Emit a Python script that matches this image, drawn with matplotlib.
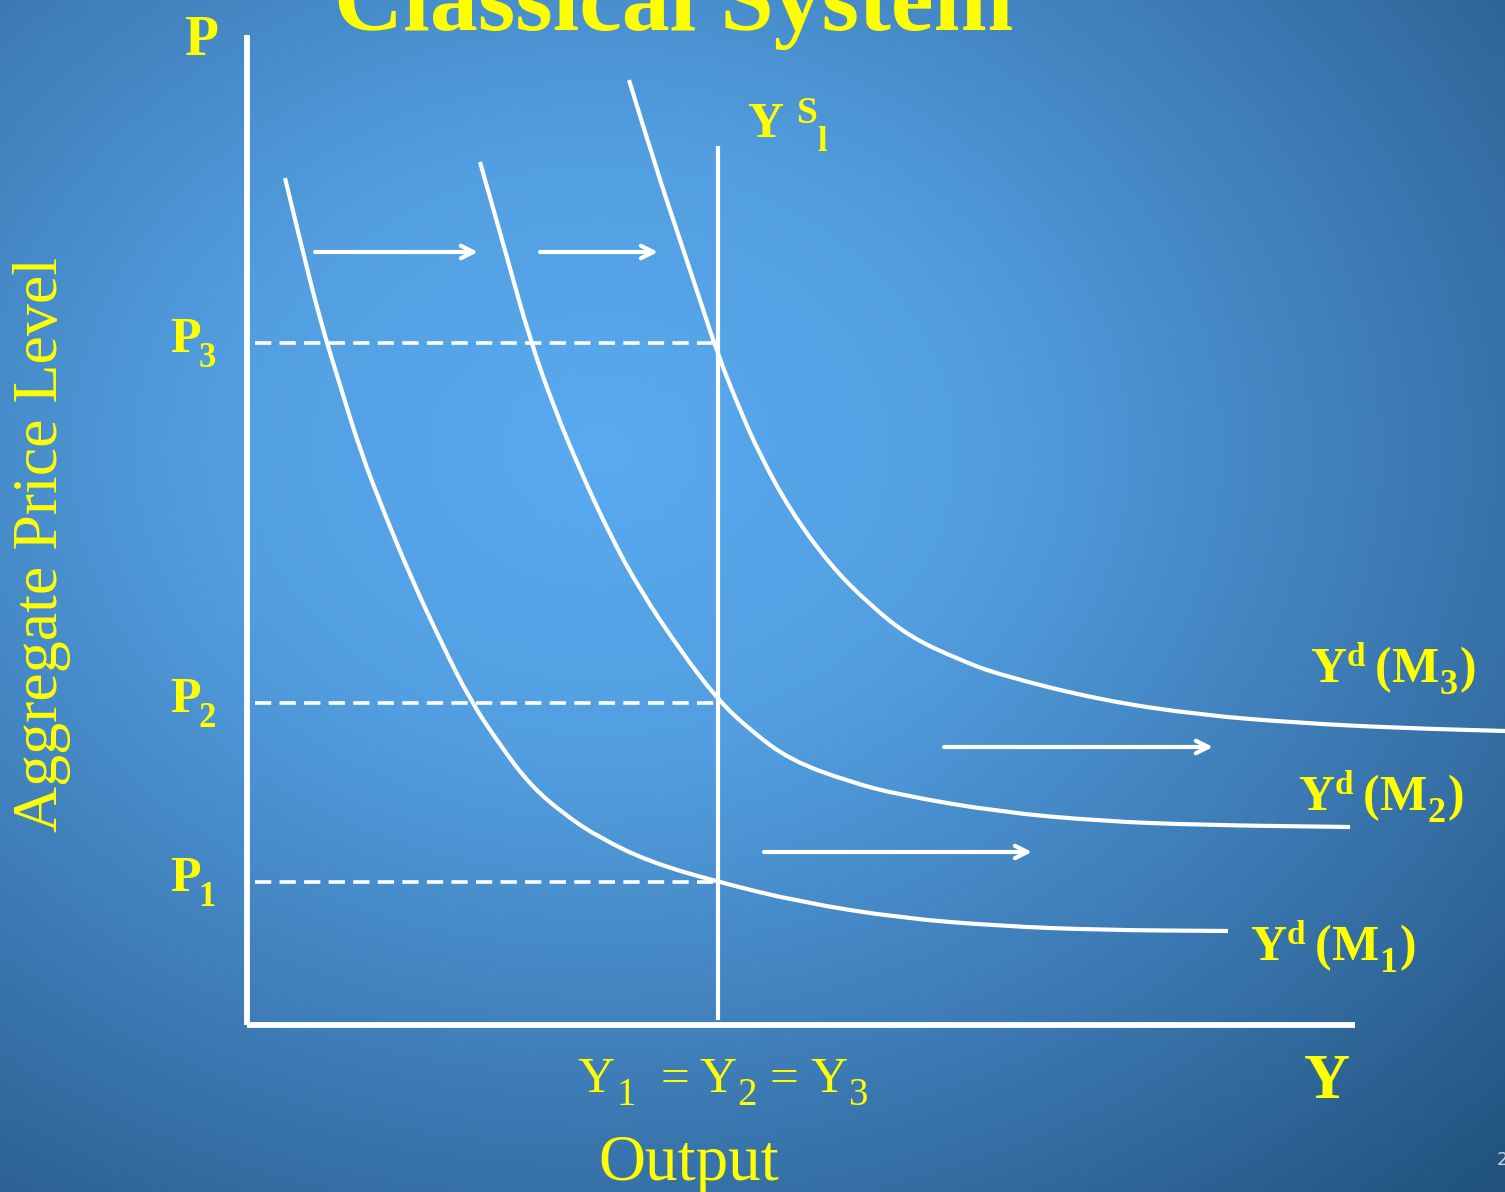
import numpy as np
import matplotlib
matplotlib.use("Agg")
import matplotlib.pyplot as plt
from matplotlib.colors import LinearSegmentedColormap
from matplotlib.path import Path
from matplotlib.patches import PathPatch

# ---- data (output, price) in diagram units; origin at axis corner ----
m1_x = [38, 53, 73, 93, 113, 138, 163, 193, 223, 253, 283, 318, 353, 403, 471, 553, 653, 753, 853, 981]
m1_y = [847, 785, 705, 640, 575, 510, 450, 385, 325, 280, 240, 210, 187, 163, 143, 123, 107, 99, 95, 94]
m2_x = [233, 258, 283, 308, 333, 363, 393, 433, 471, 503, 543, 603, 653, 753, 853, 953, 1103]
m2_y = [863, 775, 685, 615, 555, 490, 435, 375, 325, 295, 265, 243, 230, 213, 204, 200, 198]
m3_x = [382, 408, 433, 453, 471, 493, 513, 543, 583, 623, 663, 713, 753, 853, 953, 1053, 1153, 1258]
m3_y = [945, 860, 785, 725, 670, 615, 570, 515, 460, 420, 388, 365, 350, 325, 310, 302, 297, 294]
y_star = 471
p_levels = [143, 322, 682]
p_subs = ['1', '2', '3']
ys_top = 877
arrows = [((68, 773), (231, 773)), ((293, 773), (411, 773)),
          ((697, 278), (966, 278)), ((517, 173), (785, 173))]
yd_subs = ['1', '2', '3']
yd_label_pos = [(1003, 65), (1051, 215), (1063, 343)]

W, H = 1505, 1192
fig = plt.figure(figsize=(W / 100, H / 100), dpi=100)

# background radial (elliptical) gradient
bg = fig.add_axes([0, 0, 1, 1])
bg.set_axis_off()
xx, yy = np.meshgrid(np.arange(W), np.arange(H))
r = np.sqrt(((xx - 600) / 1.25) ** 2 + (yy - 450) ** 2) / 1020
r = np.clip(r, 0, 1)
cmap = LinearSegmentedColormap.from_list('bg', [(0, '#5aaaf0'), (0.3, '#529ee0'),
                                                (0.66, '#3b78b1'), (0.84, '#2e6597'),
                                                (1.0, '#21537e')])
bg.imshow(r, cmap=cmap, vmin=0, vmax=1, extent=(0, W, H, 0), aspect='auto')
bg.set_xlim(0, W)
bg.set_ylim(H, 0)

ax = fig.add_axes([0, 0, 1, 1])
ax.set_axis_off()
ax.patch.set_alpha(0)
ax.set_xlim(-247, W - 247)
ax.set_ylim(1025 - H, 1025)

white = 'white'
yellow = '#ffff00'
serif = 'Liberation Serif'

# axes lines
ax.plot([0, 0], [0, 990], color=white, lw=4.2, solid_capstyle='butt')
ax.plot([0, 1108], [0, 0], color=white, lw=4.2, solid_capstyle='butt')

# vertical supply
ax.plot([y_star, y_star], [7, ys_top], color=white, lw=3.0)

# dashed price lines
for p in p_levels:
    ax.plot([8, y_star], [p, p], color=white, lw=2.6, dashes=(4.5, 2.3))


def smooth_curve(xs, ys):
    pts = np.column_stack([xs, ys]).astype(float)
    verts = [pts[0]]
    codes = [Path.MOVETO]
    for i in range(1, len(pts) - 1):
        mid = (pts[i] + pts[i + 1]) / 2
        verts += [pts[i], mid]
        codes += [Path.CURVE3, Path.CURVE3]
    verts.append(pts[-1])
    codes.append(Path.LINETO)
    return Path(verts, codes)


for xs, ys in [(m1_x, m1_y), (m2_x, m2_y), (m3_x, m3_y)]:
    ax.add_patch(PathPatch(smooth_curve(xs, ys), facecolor='none', edgecolor=white,
                           lw=3.0, capstyle='butt'))

# arrows
for (x0, y0), (x1, y1) in arrows:
    ax.annotate('', xy=(x1, y1), xytext=(x0, y0),
                arrowprops=dict(arrowstyle='->,head_length=0.9,head_width=0.45',
                                color=white, lw=3.0, shrinkA=0, shrinkB=0))

renderer = fig.canvas.get_renderer()


def runs(x, y, parts, ha='left', family=serif):
    """parts: (string, size, weight, dy, gap_after)"""
    cur = x
    texts = []
    for s, size, weight, dy, gap in parts:
        t = ax.text(cur, y + dy, s, fontsize=size, fontweight=weight, family=family,
                    color=yellow, ha='left', va='baseline')
        bb = t.get_window_extent(renderer)
        cur += bb.width + gap
        texts.append(t)
    if ha == 'center':
        shift = (cur - x) / 2
        for t in texts:
            px, py = t.get_position()
            t.set_position((px - shift, py))


# title (cut off at top)
ax.text(427, 995, 'Classical System', fontsize=69, fontweight='bold', family=serif,
        color=yellow, ha='center', va='baseline')

# P axis label
ax.text(-45, 970, 'P', fontsize=40, fontweight='bold', family=serif, color=yellow,
        ha='center', va='baseline')
# Y axis label
ax.text(1080, -73, 'Y', fontsize=46, fontweight='bold', family=serif, color=yellow,
        ha='center', va='baseline')

# price labels
for p, sub in zip(p_levels, p_subs):
    runs(-77, p - 9, [('P', 36, 'bold', 0, -2), (sub, 25, 'bold', -15, 0)])

# Ys label
ax.text(500, 888, 'Y', fontsize=36, fontweight='bold', family=serif, color=yellow,
        ha='left', va='baseline')
ax.text(550, 902, 'S', fontsize=27, fontweight='bold', family=serif, color=yellow,
        ha='left', va='baseline')
ax.text(570, 874, 'l', fontsize=25, fontweight='bold', family=serif, color=yellow,
        ha='left', va='baseline')

# demand labels
for (lx, ly), sub in zip(yd_label_pos, yd_subs):
    runs(lx, ly, [('Y', 36, 'bold', 0, 1), ('d', 24, 'bold', 16, 9),
                  ('(', 36, 'bold', 0, 0), ('M', 36, 'bold', 0, 1),
                  (sub, 26, 'bold', -12, 2), (')', 36, 'bold', 0, 0)])

# y-axis title
ax.text(-205, 481, 'Aggregate Price Level', fontsize=46, family=serif, color=yellow,
        rotation=90, ha='center', va='center')

# x labels
runs(330, -67, [('Y', 37, 'normal', 0, 3), ('1', 28, 'normal', -13, 24),
                ('=', 37, 'normal', 0, 10), ('Y', 37, 'normal', 0, 1),
                ('2', 28, 'normal', -13, 12), ('=', 37, 'normal', 0, 12),
                ('Y', 37, 'normal', 0, 1), ('3', 28, 'normal', -13, 0)])
ax.text(442, -155, 'Output', fontsize=47, family=serif, color=yellow,
        ha='center', va='baseline')

# page number
ax.text(1250, -140, '2', fontsize=13, color='#c8d4e0', ha='left', va='baseline')

fig.savefig('out.png', dpi=100)
